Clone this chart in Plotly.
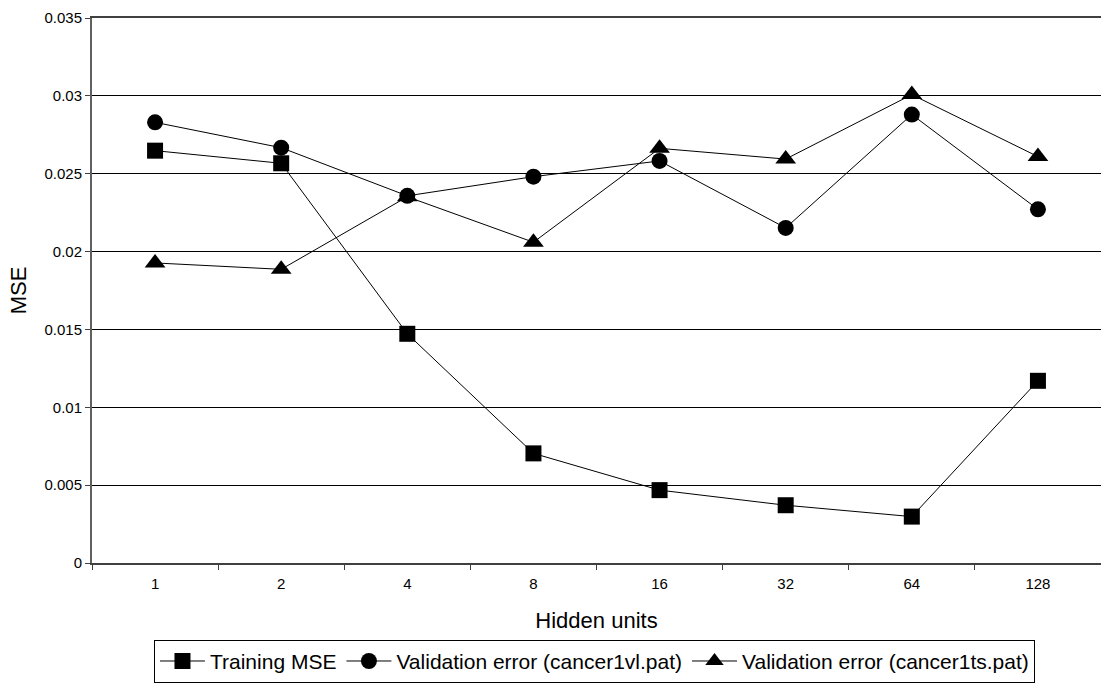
import plotly.graph_objects as go

hidden_units = ["1", "2", "4", "8", "16", "32", "64", "128"]
training_mse = [0.02648, 0.02567, 0.01472, 0.00704, 0.00468, 0.00371, 0.00298, 0.01170]
val_vl = [0.02830, 0.02667, 0.02358, 0.02481, 0.02582, 0.02152, 0.02880, 0.02271]
val_ts = [0.01927, 0.01886, 0.02352, 0.02060, 0.02663, 0.02594, 0.03008, 0.02610]
y_tick_vals = [0, 0.005, 0.01, 0.015, 0.02, 0.025, 0.03, 0.035]
y_tick_text = ["0", "0.005", "0.01", "0.015", "0.02", "0.025", "0.03", "0.035"]

FONT = "Arial, Liberation Sans, sans-serif"

fig = go.Figure()
fig.add_trace(go.Scatter(
    x=hidden_units, y=training_mse, name="Training MSE", mode="lines+markers",
    line=dict(color="black", width=1),
    marker=dict(symbol="square", size=16, color="black")))
fig.add_trace(go.Scatter(
    x=hidden_units, y=val_vl, name="Validation error (cancer1vl.pat)", mode="lines+markers",
    line=dict(color="black", width=1),
    marker=dict(symbol="circle", size=16, color="black")))
fig.add_trace(go.Scatter(
    x=hidden_units, y=val_ts, name="Validation error (cancer1ts.pat)", mode="lines+markers",
    line=dict(color="black", width=1),
    marker=dict(symbol="triangle-up", size=18, color="black")))

fig.update_layout(
    width=1101, height=685,
    margin=dict(l=92, r=0, t=18, b=122),
    paper_bgcolor="white", plot_bgcolor="white",
    font=dict(family=FONT, color="black"),
    showlegend=True,
    legend=dict(
        orientation="h", x=0.498, xanchor="center", y=-0.141, yanchor="top",
        bordercolor="black", borderwidth=1, bgcolor="white",
        font=dict(family=FONT, size=21, color="black"),
        itemwidth=45,
    ),
    xaxis=dict(
        type="category", categoryorder="array", categoryarray=hidden_units,
        range=[-0.5, 7.5], tickson="boundaries", ticks="outside", ticklen=5,
        tickcolor="#404040", showgrid=False, showline=True, linecolor="#404040",
        linewidth=2, mirror=True, zeroline=False, ticklabelstandoff=6,
        tickfont=dict(family=FONT, size=15, color="black"),
        title=dict(text="Hidden units", font=dict(family=FONT, size=22, color="black"), standoff=22),
    ),
    yaxis=dict(
        range=[0, 0.035], tickvals=y_tick_vals, ticktext=y_tick_text,
        ticks="outside", ticklen=5, tickcolor="#404040",
        showgrid=True, gridcolor="black", gridwidth=1,
        showline=True, linecolor="#606060", linewidth=2, zeroline=False,
        tickfont=dict(family=FONT, size=15, color="black"),
        title=dict(text="MSE", font=dict(family=FONT, size=22, color="black"), standoff=12),
    ),
)

fig.write_html("out.html")
